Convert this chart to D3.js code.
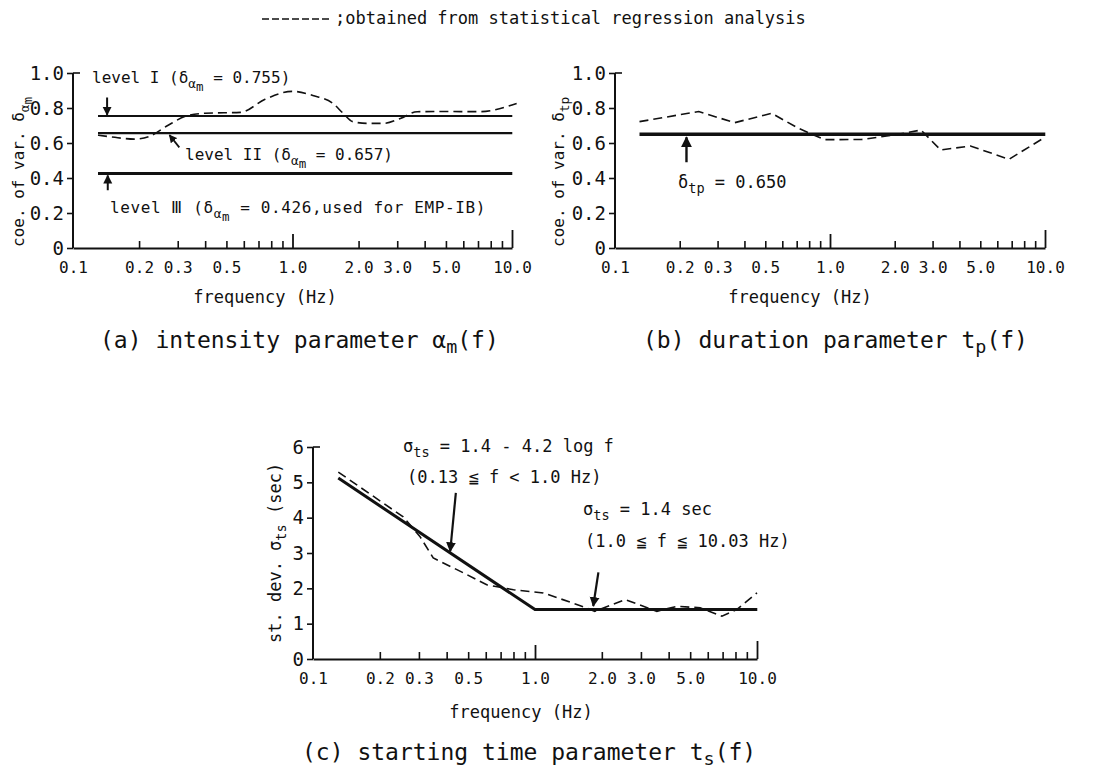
<!DOCTYPE html>
<html>
<head>
<meta charset="utf-8">
<script src="https://cdn.jsdelivr.net/npm/d3@7"></script>
<style>
  body { margin: 0; background: #fff; }
  svg text { font-family: "DejaVu Sans Mono", "Liberation Mono", monospace; fill: #111; }
</style>
</head>
<body>
<svg id="fig" width="1101" height="784"></svg>
<script>
// ---- shared frequency axis ----
const majorTickFreqs  = [0.1, 0.2, 0.3, 0.5, 1, 2, 3, 5, 10];
const majorTickLabels = ["0.1", "0.2", "0.3", "0.5", "1.0", "2.0", "3.0", "5.0", "10.0"];
const minorTickFreqs  = [0.2, 0.3, 0.4, 0.5, 0.6, 0.7, 0.8, 0.9, 2, 3, 4, 5, 6, 7, 8, 9];
const decadeTickFreqs = [1, 10];

// ---- (a) intensity parameter ----
const covTicks = [0, 0.2, 0.4, 0.6, 0.8, 1.0];
const intensityFreq = [0.13, 0.16, 0.19, 0.225, 0.27, 0.33, 0.40, 0.58, 0.75, 1.0, 1.25, 1.53, 1.7, 1.88, 2.2, 2.6, 3.1, 3.7, 5.0, 7.1, 10.5];
const intensityRegression = [0.645, 0.63, 0.622, 0.64, 0.70, 0.755, 0.77, 0.775, 0.85, 0.895, 0.87, 0.826, 0.77, 0.722, 0.712, 0.712, 0.74, 0.779, 0.78, 0.779, 0.826];
const intensityLevels = [0.755, 0.657, 0.426];
const levelSpan = [0.13, 10.03];

// ---- (b) duration parameter ----
const durationFreq = [0.13, 0.245, 0.36, 0.535, 0.71, 0.945, 1.4, 1.99, 2.65, 3.27, 4.5, 6.8, 10.0];
const durationRegression = [0.722, 0.78, 0.716, 0.77, 0.685, 0.619, 0.62, 0.646, 0.674, 0.56, 0.583, 0.507, 0.633];
const durationModel = 0.650;

// ---- (c) starting time parameter ----
const sigmaTicks = [0, 1, 2, 3, 4, 5, 6];
const startFreq = [0.13, 0.255, 0.303, 0.348, 0.475, 0.606, 0.8, 1.09, 1.6, 1.86, 2.55, 3.54, 4.36, 5.55, 6.95, 8.1, 10.0];
const startRegression = [5.29, 4.02, 3.47, 2.86, 2.44, 2.1, 1.96, 1.87, 1.51, 1.35, 1.68, 1.35, 1.49, 1.45, 1.21, 1.4, 1.87];
const startModelFreq  = [0.13, 1.0, 10.03];
const startModelSigma = [5.12, 1.4, 1.4];

const svg = d3.select("#fig");

svg.append("defs").append("marker")
  .attr("id", "head").attr("viewBox", "0 0 10 10")
  .attr("refX", 9).attr("refY", 5)
  .attr("markerWidth", 4.5).attr("markerHeight", 5)
  .attr("markerUnits", "strokeWidth")
  .attr("orient", "auto")
  .append("path").attr("d", "M0,0 L10,5 L0,10 Z").attr("fill", "#111");

// Draws the log-frequency axis and linear value axis of one panel.
function panelAxes(g, x, y, yTicks, yFmt) {
  const yb = y.range()[0], yt = y.range()[1];
  const x0 = x.range()[0];

  // inward minor ticks + baseline
  const bx = g.append("g").attr("transform", `translate(0,${yb})`)
    .call(d3.axisBottom(x).tickValues(minorTickFreqs).tickSize(-7).tickSizeOuter(0).tickFormat(""));
  bx.select(".domain").attr("stroke", "#111").attr("stroke-width", 2);
  bx.selectAll(".tick line").attr("stroke", "#111").attr("stroke-width", 1.6);

  // taller decade ticks
  const dx = g.append("g").attr("transform", `translate(0,${yb})`)
    .call(d3.axisBottom(x).tickValues(decadeTickFreqs).tickSize(-15).tickSizeOuter(0).tickFormat(""));
  dx.select(".domain").remove();
  dx.selectAll(".tick line").attr("stroke", "#111").attr("stroke-width", 1.8)
    .attr("y2", d => d === 10 ? -18 : -14);

  // labels
  const lx = g.append("g").attr("transform", `translate(0,${yb})`)
    .call(d3.axisBottom(x).tickValues(majorTickFreqs).tickSize(0).tickPadding(14)
      .tickFormat((d, i) => majorTickLabels[i]));
  lx.select(".domain").remove();
  lx.attr("font-family", null).attr("font-size", null);
  lx.selectAll("text").style("font-size", "16px");

  // value axis
  const ly = g.append("g").attr("transform", `translate(${x0},0)`)
    .call(d3.axisLeft(y).tickValues(yTicks).tickSize(6).tickPadding(3).tickFormat(yFmt));
  ly.attr("font-family", null).attr("font-size", null);
  ly.select(".domain").attr("stroke", "#111").attr("stroke-width", 2)
    .attr("d", `M0,${yb}V${yt}`);
  ly.selectAll(".tick line").attr("stroke", "#111").attr("stroke-width", 1.6);
  ly.selectAll("text").style("font-size", "19px");
  // short inward cap at the top of the value axis
  g.append("line").attr("x1", x0).attr("x2", x0 + 7).attr("y1", yt).attr("y2", yt)
    .attr("stroke", "#111").attr("stroke-width", 1.6);
}

// Text with nested subscripts: parts = [[text, level], ...]
function richText(sel, parts, size) {
  let prevLevel = 0;
  parts.forEach(([t, level]) => {
    const shift = [0, 5, 8][level] - [0, 5, 8][prevLevel];
    const fs = [size, size * 0.8, size * 0.78][level];
    sel.append("tspan").attr("dy", shift).style("font-size", fs + "px").text(t);
    prevLevel = level;
  });
  return sel;
}

function arrow(g, x1, y1, x2, y2, w) {
  g.append("line").attr("x1", x1).attr("y1", y1).attr("x2", x2).attr("y2", y2)
    .attr("stroke", "#111").attr("stroke-width", w || 2).attr("marker-end", "url(#head)");
}

const dashStyle = "9,5";

// ================= (a) =================
{
  const x = d3.scaleLog().domain([0.1, 10]).range([73, 512]);
  const y = d3.scaleLinear().domain([0, 1]).range([248, 73]);
  const g = svg.append("g");
  panelAxes(g, x, y, covTicks, d => d === 0 ? "0" : d.toFixed(1));

  const levelWidths = [2, 2.2, 3];
  intensityLevels.forEach((v, i) => {
    g.append("path")
      .attr("d", d3.line()(levelSpan.map(f => [x(f), y(v)])))
      .attr("stroke", "#111").attr("stroke-width", levelWidths[i]).attr("fill", "none");
  });

  g.append("path")
    .datum(intensityFreq.map((f, i) => [f, intensityRegression[i]]))
    .attr("d", d3.line().x(d => x(d[0])).y(d => y(d[1])).curve(d3.curveMonotoneX))
    .attr("stroke", "#111").attr("stroke-width", 1.6).attr("fill", "none")
    .attr("stroke-dasharray", dashStyle);

  // level annotations
  arrow(g, x(0.143), y(0.86), x(0.143), y(intensityLevels[0]) - 1);
  richText(g.append("text").attr("x", 92).attr("y", 83),
    [["level I (δ", 0], ["α", 1], ["m", 2], [" = 0.755)", 0]], 16);

  arrow(g, x(0.305), y(0.575), x(0.275), y(intensityLevels[1]) + 2, 1.8);
  richText(g.append("text").attr("x", 185).attr("y", 160),
    [["level II (δ", 0], ["α", 1], ["m", 2], [" = 0.657)", 0]], 16);

  arrow(g, x(0.144), y(0.33), x(0.144), y(intensityLevels[2]) + 2);
  richText(g.append("text").attr("x", 110).attr("y", 213).style("letter-spacing", "0.6px"),
    [["level Ⅲ (δ", 0], ["α", 1], ["m", 2], [" = 0.426,used for EMP-IB)", 0]], 16);

  g.append("text").attr("x", 265).attr("y", 303).attr("text-anchor", "middle")
    .style("font-size", "17px").text("frequency (Hz)");

  richText(g.append("text").attr("transform", "translate(24,247) rotate(-90)"),
    [["coe. of var. δ", 0], ["α", 1], ["m", 2]], 16);

  richText(g.append("text").attr("x", 100).attr("y", 348),
    [["(a) intensity parameter α", 0], ["m", 1], ["(f)", 0]], 23);
}

// ================= (b) =================
{
  const x = d3.scaleLog().domain([0.1, 10]).range([615, 1045]);
  const y = d3.scaleLinear().domain([0, 1]).range([248, 73]);
  const g = svg.append("g");
  panelAxes(g, x, y, covTicks, d => d === 0 ? "0" : d.toFixed(1));

  g.append("path")
    .attr("d", d3.line()(levelSpan.map(f => [x(f), y(durationModel)])))
    .attr("stroke", "#111").attr("stroke-width", 3.5).attr("fill", "none");

  g.append("path")
    .datum(durationFreq.map((f, i) => [f, durationRegression[i]]))
    .attr("d", d3.line().x(d => x(d[0])).y(d => y(d[1])))
    .attr("stroke", "#111").attr("stroke-width", 1.6).attr("fill", "none")
    .attr("stroke-dasharray", dashStyle);

  arrow(g, x(0.215), y(0.49), x(0.215), y(durationModel) + 3, 2.4);
  richText(g.append("text").attr("x", 678).attr("y", 188),
    [["δ", 0], ["tp", 1], [" = 0.650", 0]], 17);

  g.append("text").attr("x", 800).attr("y", 303).attr("text-anchor", "middle")
    .style("font-size", "17px").text("frequency (Hz)");

  richText(g.append("text").attr("transform", "translate(564,247) rotate(-90)"),
    [["coe. of var. δ", 0], ["tp", 1]], 16);

  richText(g.append("text").attr("x", 643).attr("y", 348),
    [["(b) duration parameter t", 0], ["p", 1], ["(f)", 0]], 23);
}

// ================= (c) =================
{
  const x = d3.scaleLog().domain([0.1, 10]).range([313, 757]);
  const y = d3.scaleLinear().domain([0, 6]).range([659, 447]);
  const g = svg.append("g");
  panelAxes(g, x, y, sigmaTicks, d => String(d));

  g.append("path")
    .datum(startModelFreq.map((f, i) => [f, startModelSigma[i]]))
    .attr("d", d3.line().x(d => x(d[0])).y(d => y(d[1])))
    .attr("stroke", "#111").attr("stroke-width", 3).attr("fill", "none");

  g.append("path")
    .datum(startFreq.map((f, i) => [f, startRegression[i]]))
    .attr("d", d3.line().x(d => x(d[0])).y(d => y(d[1])))
    .attr("stroke", "#111").attr("stroke-width", 1.6).attr("fill", "none")
    .attr("stroke-dasharray", dashStyle);

  arrow(g, x(0.44), y(4.7), x(0.415), y(3.05), 2.2);
  richText(g.append("text").attr("x", 403).attr("y", 452),
    [["σ", 0], ["ts", 1], [" = 1.4 - 4.2 log f", 0]], 17);
  g.append("text").attr("x", 407).attr("y", 483).style("font-size", "17px")
    .text("(0.13 ≦ f < 1.0 Hz)");

  arrow(g, x(1.93), y(2.45), x(1.83), y(1.5), 2.2);
  richText(g.append("text").attr("x", 583).attr("y", 515),
    [["σ", 0], ["ts", 1], [" = 1.4 sec", 0]], 17);
  g.append("text").attr("x", 585).attr("y", 547).style("font-size", "17px")
    .text("(1.0 ≦ f ≦ 10.03 Hz)");

  g.append("text").attr("x", 521).attr("y", 718).attr("text-anchor", "middle")
    .style("font-size", "17px").text("frequency (Hz)");

  richText(g.append("text").attr("transform", "translate(281,643) rotate(-90)"),
    [["st. dev. σ", 0], ["ts", 1], [" (sec)", 0]], 17);

  richText(g.append("text").attr("x", 302).attr("y", 760),
    [["(c) starting time parameter t", 0], ["s", 1], ["(f)", 0]], 23);
}

// ---- key line at the top ----
{
  const g = svg.append("g");
  g.append("line").attr("x1", 262).attr("x2", 330).attr("y1", 19).attr("y2", 19)
    .attr("stroke", "#111").attr("stroke-width", 1.6).attr("stroke-dasharray", "7,3");
  g.append("text").attr("x", 335).attr("y", 24).style("font-size", "17px")
    .text(";obtained from statistical regression analysis");
}
</script>
</body>
</html>
